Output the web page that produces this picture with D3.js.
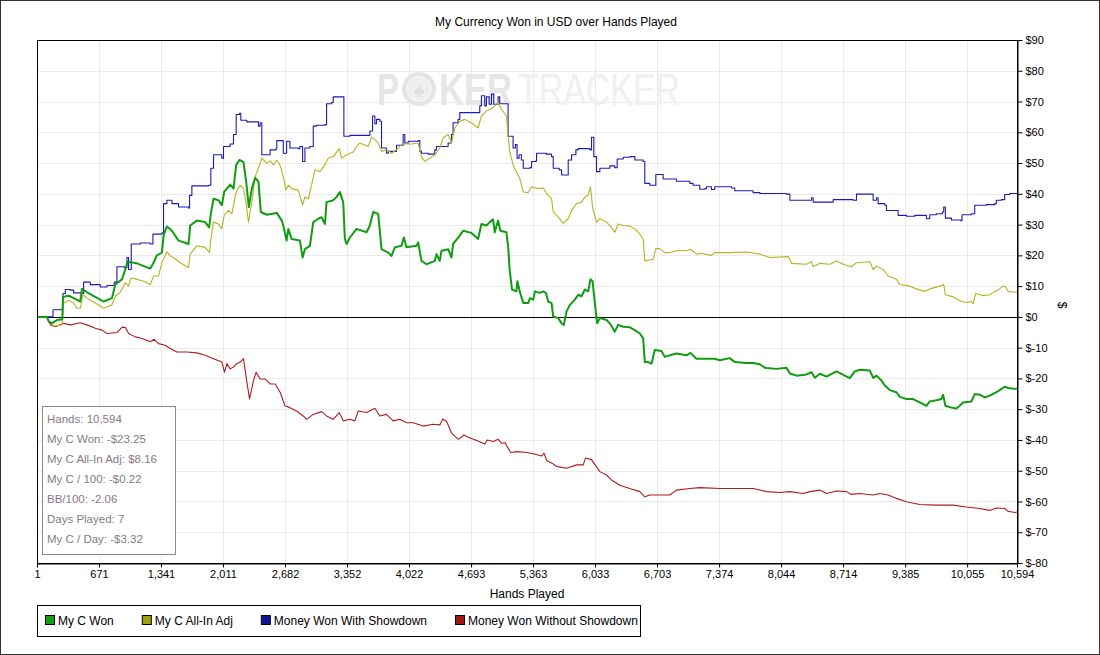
<!doctype html>
<html>
<head>
    <meta charset="utf-8" />
    <title>My Currency Won in USD over Hands Played</title>
    <style>
        body { margin: 0; background: #fff; }
        svg text { font-family: "Liberation Sans", Arial, sans-serif; }
        .grid line { stroke: #ebebeb; stroke-width: 1; }
        .series { fill: none; stroke-linejoin: round; }
    </style>
</head>
<body>
    <div id="chart"></div>

    <script src="https://cdn.jsdelivr.net/npm/d3@7"></script>
    <script>
        // [hand, dollars]
        var myCWon = [
            [1,0],[108,0],[127,-1.5],[163,-2.1],[217,-1],[275,-0.8],[282,6.5],[343,6.9],[397,6.1],[469,5],[487,9.1],[541,8],[631,6.5],[721,5],[811,6.1],[847,10.5],[919,12.2],[955,15.4],[980,17.9],[1081,17.4],[1225,15.7],[1261,17.6],[1297,20],[1351,20.9],[1369,26.4],[1405,29.4],[1459,28],[1531,24.8],[1639,23.7],[1657,29.7],[1729,31.3],[1819,30.8],[1862,29.1],[1880,33.5],[1909,38.4],[1963,37.9],[1999,36.3],[2024,40.6],[2089,43],[2125,41.7],[2154,49.4],[2190,51],[2233,50.3],[2262,43.9],[2291,35.7],[2323,41.7],[2359,45.2],[2395,43.9],[2420,34.1],[2485,33.2],[2593,33.8],[2647,31.3],[2663,29.7],[2699,24.8],[2717,28.6],[2753,25.3],[2843,24.8],[2872,19.3],[2897,22],[2951,23.1],[2987,30.8],[3041,31.9],[3077,32.4],[3113,30.2],[3131,37.3],[3203,37.9],[3239,39],[3275,40.6],[3311,37.3],[3329,25.3],[3347,23.7],[3383,25.8],[3455,28.6],[3563,27.5],[3599,29.7],[3635,34.1],[3689,33.5],[3725,22],[3797,20.9],[3833,19.8],[3869,22.6],[3941,23.1],[3966,25.8],[3995,22.6],[4103,23.1],[4121,24.2],[4157,18.2],[4211,17.1],[4301,18.2],[4319,20.4],[4355,18.2],[4373,21.5],[4445,22],[4481,19.3],[4499,23.7],[4571,26.4],[4607,28],[4697,27.3],[4769,25.3],[4805,30.2],[4859,29.7],[4895,30.8],[4931,31.7],[4949,27.5],[4985,31.3],[5010,28],[5075,27.5],[5093,23.1],[5111,14.9],[5136,8.9],[5183,8.3],[5194,11.6],[5219,8.3],[5257,4.5],[5311,4.5],[5329,6.1],[5365,5.6],[5383,8.3],[5437,7.8],[5473,8.3],[5502,7.8],[5527,5],[5563,4.5],[5581,0.1],[5635,-0.4],[5671,-2.1],[5696,-2.6],[5725,1.8],[5761,3.9],[5815,5.6],[5851,7.2],[5887,6.7],[5923,8.9],[5959,8.3],[5984,12.2],[6006,11.6],[6031,4.5],[6056,-2.1],[6085,-0.4],[6157,-1],[6193,-2.1],[6247,-4.8],[6283,-2.6],[6337,-3.2],[6409,-3.4],[6463,-4.3],[6517,-5.4],[6553,-7],[6571,-14.7],[6607,-14.7],[6643,-15.2],[6679,-10.8],[6751,-11.1],[6787,-13],[6841,-12.5],[6913,-11.9],[7021,-12.5],[7064,-11.7],[7129,-13.6],[7237,-13.6],[7327,-13.6],[7381,-14.1],[7489,-13.4],[7543,-14.7],[7669,-15],[7741,-15],[7813,-15.4],[7867,-16.5],[7887,-16.6],[7995,-16.9],[8103,-16.5],[8139,-18.4],[8211,-19.1],[8319,-18.7],[8373,-18],[8409,-19.8],[8463,-18.5],[8535,-19.4],[8643,-17.7],[8733,-19.1],[8787,-19.9],[8841,-17.7],[8895,-17.2],[9003,-17.4],[9039,-19.8],[9075,-19.1],[9129,-20.7],[9165,-22.3],[9219,-23.8],[9291,-24.5],[9327,-26],[9399,-26.7],[9471,-26.7],[9543,-27.8],[9615,-28.9],[9651,-27.5],[9723,-27.1],[9777,-26.7],[9795,-25.3],[9820,-28.9],[9885,-29.5],[9939,-29.8],[9975,-28.9],[10011,-27.8],[10101,-27.5],[10137,-25.1],[10191,-25.3],[10245,-26.2],[10299,-25.6],[10371,-24.5],[10407,-23.8],[10461,-22.7],[10497,-23.1],[10569,-23.4],[10594,-23.25]
        ];

        var allInAdj = [
            [1,0],[108,0],[145,-2.1],[181,-3],[271,-2.6],[289,4.5],[343,5.4],[397,4.5],[433,2.8],[469,2.8],[498,7.2],[541,6.1],[631,4.5],[721,2.8],[811,3.9],[847,6.7],[901,8],[955,11.1],[991,10],[1016,12.7],[1081,12.2],[1153,11.6],[1225,10.5],[1261,13.3],[1315,13.3],[1351,17.6],[1405,21.1],[1441,19.8],[1477,19.3],[1549,17.6],[1639,16],[1657,20.4],[1729,23.1],[1819,22.6],[1866,20.9],[1880,25.3],[1909,30.8],[1963,30.2],[1999,28.6],[2024,33],[2071,34.6],[2107,33.5],[2154,40.6],[2197,42.8],[2233,41.7],[2262,36.8],[2287,30.8],[2323,37.3],[2359,45.6],[2395,48.3],[2431,51.6],[2485,49.9],[2521,50.7],[2557,49.4],[2593,51],[2627,49.4],[2663,45.6],[2692,41.2],[2717,42.8],[2753,41.7],[2825,41.2],[2872,36.3],[2897,39],[2933,38.4],[2969,42.8],[3005,47.8],[3059,47.2],[3113,49.4],[3149,51.6],[3203,52.1],[3268,54.7],[3293,51.6],[3347,52.7],[3419,53.6],[3455,55.4],[3491,56.5],[3581,55.4],[3617,58.4],[3653,57.6],[3689,56.5],[3725,53.8],[3779,54.3],[3833,53.2],[3887,54.3],[3941,56],[3977,56.2],[4049,56.2],[4121,56.5],[4157,52.1],[4193,50.5],[4247,51.6],[4301,52.7],[4355,54.9],[4391,58.2],[4445,59.3],[4481,56.5],[4517,61.4],[4571,63.6],[4625,64.2],[4697,63.1],[4769,61.4],[4805,65.3],[4859,66.9],[4931,68],[4985,69.7],[5021,67.5],[5075,65.3],[5093,58.7],[5111,53.8],[5147,49.4],[5190,46.7],[5219,45],[5257,40.6],[5311,40.4],[5347,42.3],[5401,41.7],[5473,41.9],[5509,40.1],[5563,38.4],[5581,34.1],[5635,32.4],[5689,30.4],[5743,31.9],[5779,34.6],[5833,36.8],[5887,37.3],[5923,39],[5959,39.5],[5984,42.3],[6006,35.7],[6049,30.8],[6085,31.9],[6157,30.8],[6211,29.1],[6247,27.5],[6283,30.2],[6337,29.7],[6409,29.5],[6463,28.6],[6517,26.9],[6553,25.3],[6571,18.2],[6625,18.5],[6661,18.7],[6690,22.2],[6733,22.2],[6787,20.9],[6841,20.9],[6913,21.5],[7021,21.5],[7064,22],[7129,20.4],[7183,20.7],[7291,20],[7327,20.9],[7489,20.9],[7669,21.1],[7815,20.4],[7923,19.3],[8121,19.6],[8157,17.4],[8319,17.1],[8373,17.9],[8391,16.3],[8463,17.4],[8571,17.1],[8643,18.2],[8715,17.1],[8805,16.3],[8859,17.6],[9003,17.9],[9039,15.4],[9075,16.5],[9147,15.4],[9201,13.3],[9291,12.2],[9327,10.5],[9435,10],[9507,9.1],[9597,8.3],[9651,9.1],[9759,10],[9802,10.5],[9820,7.2],[9903,6.5],[9993,5],[10047,4.7],[10101,5],[10119,4.3],[10148,7.6],[10227,6.9],[10299,7.2],[10353,8.3],[10389,8.7],[10443,10],[10472,9.6],[10497,8.3],[10569,8],[10594,8.16]
        ];

        var withShowdown = [
            [1,0],[108,0],[163,0.1],[174,2.3],[260,2.5],[282,7.6],[307,8.9],[361,8.7],[397,7.8],[487,7.6],[505,11.3],[577,10.5],[685,9.7],[757,10.2],[836,11.3],[865,16.3],[944,16],[973,19.3],[991,15.4],[1020,23.7],[1081,23.7],[1117,24],[1225,23.7],[1254,26.9],[1351,27.3],[1369,36.8],[1405,37.9],[1459,36.8],[1495,36.8],[1531,35.7],[1639,35.4],[1650,39.5],[1675,42.6],[1855,42.8],[1880,48.3],[1909,52.7],[1999,51.6],[2017,55.4],[2089,56.2],[2125,59.3],[2154,65.8],[2190,66.2],[2204,63.9],[2269,63.4],[2395,62],[2413,63.1],[2431,52.7],[2521,54.3],[2586,54.9],[2593,57.3],[2627,57.3],[2663,53.2],[2699,57.1],[2735,54.9],[2825,54.7],[2843,55.4],[2872,50.5],[2897,54.9],[2951,55.4],[2987,62],[3023,62.3],[3113,62.5],[3131,69.3],[3185,69.7],[3203,71.5],[3293,71.5],[3318,58.7],[3383,59],[3581,59],[3599,60.4],[3628,65.3],[3653,62.8],[3671,64.2],[3707,63.6],[3725,54.9],[3779,53.2],[3797,53.8],[3869,53.8],[3887,55.8],[3941,55.8],[3959,59.3],[3977,56.5],[4013,57.1],[4121,57.3],[4139,53.8],[4157,53.2],[4229,52.9],[4301,54.3],[4319,55.4],[4391,55.4],[4445,56.5],[4481,59.3],[4499,63.1],[4553,64.2],[4571,66.4],[4769,66.4],[4787,68.6],[4805,71.9],[4841,68.6],[4859,71.5],[4888,69.1],[4913,72.4],[4938,69.1],[4985,71.5],[5003,69.3],[5075,69.3],[5093,58.7],[5147,54.9],[5172,56],[5190,51.6],[5212,52.7],[5237,51],[5257,48.3],[5329,48.5],[5347,50.5],[5394,50.7],[5401,53.2],[5509,52.9],[5563,52.1],[5581,48.3],[5646,47.8],[5671,46.1],[5725,46.1],[5743,51],[5779,52.7],[5826,54.3],[5851,54.7],[5977,54.3],[5995,58.4],[6020,52.1],[6049,47.2],[6085,48.3],[6193,49.1],[6247,48.5],[6272,51.3],[6337,51.9],[6409,52.1],[6463,51],[6553,50.5],[6571,43.4],[6625,42.8],[6661,42.8],[6690,46.3],[6733,46.3],[6769,44.8],[6913,44.1],[7057,43.4],[7093,42.8],[7165,41.5],[7219,41.7],[7237,42.3],[7291,41.4],[7327,42.3],[7507,41.9],[7543,41],[7741,40.4],[7815,40.1],[8103,39.9],[8139,37.9],[8355,37.9],[8373,38.7],[8391,37.3],[8607,38.1],[8823,37.9],[8859,39.9],[9003,39.9],[9039,37.9],[9075,38.7],[9093,36.8],[9165,36.3],[9183,34.6],[9309,33],[9399,32.7],[9489,33],[9615,31.9],[9651,33.2],[9723,33.5],[9788,34.1],[9802,35.7],[9820,32.1],[9885,31.5],[9986,31.3],[10000,33.2],[10101,33.5],[10137,36.3],[10263,36.5],[10353,36.8],[10371,37.9],[10425,38.1],[10461,39.8],[10515,40.1],[10594,40.1]
        ];

        var withoutShowdown = [
            [1,0],[108,0],[145,-2.6],[199,-3.2],[289,-2.1],[361,-2.6],[469,-1.9],[541,-2.6],[631,-3.7],[703,-4.3],[757,-5.4],[865,-5.1],[919,-3.4],[955,-3.4],[991,-5.4],[1063,-6.5],[1135,-7],[1225,-8.1],[1268,-7.3],[1315,-8.7],[1387,-9.2],[1441,-10.3],[1513,-11.4],[1621,-11.4],[1729,-11.7],[1819,-12.5],[1909,-13.6],[1999,-14.7],[2028,-18],[2053,-15.2],[2089,-16.9],[2125,-16.3],[2161,-15.2],[2197,-14.7],[2233,-13.6],[2262,-19.6],[2298,-26.7],[2341,-20.7],[2370,-18],[2413,-20.2],[2467,-20.2],[2521,-21.8],[2575,-21.8],[2629,-24.5],[2681,-28.9],[2735,-29.5],[2807,-30.6],[2879,-32.2],[2915,-33.3],[2987,-31.7],[3077,-30.8],[3131,-32.2],[3203,-33.3],[3268,-31.1],[3311,-33.8],[3383,-33.3],[3437,-33.8],[3473,-30.6],[3563,-31.1],[3653,-29.7],[3707,-32.2],[3779,-31.7],[3851,-33.8],[3923,-33.3],[3995,-34.4],[4067,-34.4],[4175,-35.5],[4283,-34.9],[4357,-35.1],[4386,-33.2],[4429,-34],[4483,-37.8],[4555,-39.8],[4616,-38.4],[4663,-39.1],[4754,-40.2],[4843,-41.3],[4868,-40],[4933,-40.5],[4987,-39.8],[5024,-41.1],[5060,-40.9],[5121,-44.1],[5186,-43.8],[5294,-44.1],[5366,-44.5],[5456,-45.2],[5481,-44.3],[5510,-46.7],[5582,-47.8],[5617,-48.6],[5725,-49.2],[5833,-48.1],[5905,-48.1],[5930,-45.9],[5995,-46.4],[6085,-50.3],[6157,-51.4],[6211,-53],[6301,-54.7],[6409,-55.8],[6517,-56.8],[6571,-58.5],[6625,-57.9],[6733,-57.9],[6841,-57.9],[6913,-56.3],[7057,-55.8],[7165,-55.5],[7381,-55.8],[7561,-55.8],[7741,-55.8],[7815,-56.3],[7887,-56.8],[8031,-57.1],[8139,-56.8],[8283,-57.4],[8355,-56.8],[8463,-56.3],[8535,-57.4],[8643,-56.6],[8751,-56.8],[8805,-57.7],[8895,-57.4],[9039,-57.9],[9111,-57.4],[9201,-57.9],[9291,-59],[9399,-60.1],[9543,-61],[9723,-61.2],[9903,-61.2],[10047,-61.8],[10191,-62.3],[10299,-62.9],[10371,-62.1],[10461,-62.3],[10497,-63.2],[10569,-63.6],[10594,-63.4]
        ];

        var seriesNames = ["My C Won", "My C All-In Adj", "Money Won With Showdown", "Money Won Without Showdown"];
        var seriesColors = ["#109c10", "#b4b423", "#1c1cb0", "#b01c1c"];
        var legendColors = ["#14a014", "#a0a014", "#1414a0", "#a01414"];

        var xTicks = [1, 671, 1341, 2011, 2682, 3352, 4022, 4693, 5363, 6033, 6703, 7374, 8044, 8714, 9385, 10055, 10594];
        var yTicks = [-80, -70, -60, -50, -40, -30, -20, -10, 0, 10, 20, 30, 40, 50, 60, 70, 80, 90];

        var statLines = [
            "Hands: 10,594",
            "My C Won: -$23.25",
            "My C All-In Adj: $8.16",
            "My C / 100: -$0.22",
            "BB/100: -2.06",
            "Days Played: 7",
            "My C / Day: -$3.32"
        ];

        var w = 1100, h = 655;
        var pL = 37, pR = 1017, pT = 40, pB = 563;

        var svg = d3.select("#chart").append("svg").attr("width", w).attr("height", h);

        var x = d3.scaleLinear().domain([1, 10594]).range([pL, pR]);
        var y = d3.scaleLinear().domain([-80, 90]).range([pB, pT]);

        function money(v) { return v < 0 ? "$-" + Math.abs(v) : "$" + v; }

        // outer frame
        svg.append("rect").attr("x", 0.5).attr("y", 0.5).attr("width", w - 1).attr("height", h - 1)
            .attr("fill", "#fff").attr("stroke", "#333");

        // grid
        var grid = svg.append("g").attr("class", "grid");
        grid.selectAll(".gx").data(xTicks.slice(1, -1)).enter().append("line")
            .attr("x1", function(d) { return Math.round(x(d)) + 0.5; })
            .attr("x2", function(d) { return Math.round(x(d)) + 0.5; })
            .attr("y1", pT).attr("y2", pB);
        grid.selectAll(".gy").data(yTicks.slice(1, -1)).enter().append("line")
            .attr("x1", pL).attr("x2", pR)
            .attr("y1", function(d) { return Math.round(y(d)) + 0.5; })
            .attr("y2", function(d) { return Math.round(y(d)) + 0.5; });

        // watermark
        var wm = svg.append("g").attr("pointer-events", "none");
        wm.append("text").attr("x", 377).attr("y", 105).text("P")
            .attr("font-size", 44).attr("font-weight", "bold").attr("fill", "#e6e6e6")
            .attr("textLength", 22).attr("lengthAdjust", "spacingAndGlyphs");
        wm.append("circle").attr("cx", 419).attr("cy", 89).attr("r", 17).attr("fill", "#e4e4e4");
        wm.append("circle").attr("cx", 419).attr("cy", 89).attr("r", 12).attr("fill", "#eeeeee")
            .attr("stroke", "#f6f6f6").attr("stroke-width", 1.5);
        wm.append("text").attr("x", 419).attr("y", 97).attr("text-anchor", "middle").text("\u2660")
            .attr("font-family", "DejaVu Sans").attr("font-size", 20).attr("fill", "#dedede");
        wm.append("text").attr("x", 439).attr("y", 105).text("KER")
            .attr("font-size", 44).attr("font-weight", "bold").attr("fill", "#e6e6e6")
            .attr("textLength", 73).attr("lengthAdjust", "spacingAndGlyphs");
        wm.append("text").attr("x", 518).attr("y", 105).text("TRACKER")
            .attr("font-size", 44).attr("fill", "#f0f0f0")
            .attr("textLength", 162).attr("lengthAdjust", "spacingAndGlyphs");

        // zero line
        svg.append("line").attr("x1", pL).attr("x2", pR)
            .attr("y1", Math.round(y(0)) + 0.5).attr("y2", Math.round(y(0)) + 0.5)
            .attr("stroke", "#000");

        // series
        svg.append("clipPath").attr("id", "plotclip").append("rect")
            .attr("x", pL).attr("y", pT).attr("width", pR - pL).attr("height", pB - pT);

        var line = d3.line().x(function(d) { return x(d[0]); }).y(function(d) { return y(d[1]); });
        var stepLine = d3.line().curve(d3.curveStepAfter)
            .x(function(d) { return x(d[0]); }).y(function(d) { return y(d[1]); });
        var seriesData = [myCWon, allInAdj, withShowdown, withoutShowdown];
        var drawOrder = [3, 2, 1, 0];
        var plot = svg.append("g").attr("clip-path", "url(#plotclip)");
        drawOrder.forEach(function(i) {
            plot.append("path").attr("class", "series").datum(seriesData[i])
                .attr("d", i === 2 ? stepLine : line)
                .attr("stroke", seriesColors[i])
                .attr("stroke-width", i === 0 ? 2 : 1.1);
        });

        // plot frame
        svg.append("rect").attr("x", pL + 0.5).attr("y", pT + 0.5)
            .attr("width", pR - pL).attr("height", pB - pT)
            .attr("fill", "none").attr("stroke", "#000");

        // axes
        var xAxis = svg.append("g").attr("transform", "translate(0," + (pB + 0.5) + ")")
            .call(d3.axisBottom(x).tickValues(xTicks).tickFormat(d3.format(",")).tickSize(4).tickSizeOuter(0).tickPadding(3));
        var yAxis = svg.append("g").attr("transform", "translate(" + (pR + 0.5) + ",0)")
            .call(d3.axisRight(y).tickValues(yTicks).tickFormat(money).tickSize(5).tickSizeOuter(0).tickPadding(3));
        [xAxis, yAxis].forEach(function(a) {
            a.attr("font-family", "Liberation Sans, Arial, sans-serif").attr("font-size", 11);
            a.selectAll("text").attr("fill", "#000");
            a.selectAll("line").attr("stroke", "#000");
            a.select(".domain").attr("stroke", "#000");
        });

        // titles
        svg.append("text").attr("x", 556).attr("y", 26).attr("text-anchor", "middle")
            .attr("font-size", 12).text("My Currency Won in USD over Hands Played");
        svg.append("text").attr("x", (pL + pR) / 2).attr("y", 598).attr("text-anchor", "middle")
            .attr("font-size", 12).text("Hands Played");
        svg.append("text").attr("transform", "translate(1058,305) rotate(90)").attr("text-anchor", "middle")
            .attr("font-size", 12).text("$");

        // stats box
        var stats = svg.append("g");
        stats.append("rect").attr("x", 42.5).attr("y", 406.5).attr("width", 133).attr("height", 148)
            .attr("fill", "#fff").attr("stroke", "#8a8a8a");
        stats.selectAll("text").data(statLines).enter().append("text")
            .attr("x", 47).attr("y", function(d, i) { return 423 + i * 20; })
            .attr("font-family", "Noto Sans, Open Sans, sans-serif").attr("font-size", 11.5)
            .attr("fill", "#857b84").text(function(d) { return d; });

        // legend
        var legend = svg.append("g");
        legend.append("rect").attr("x", 37.5).attr("y", 605.5).attr("width", 603).attr("height", 31)
            .attr("fill", "#fff").attr("stroke", "#000");
        var lx = 45;
        seriesNames.forEach(function(name, i) {
            legend.append("rect").attr("x", lx + 0.5).attr("y", 615.5).attr("width", 9).attr("height", 9)
                .attr("fill", legendColors[i]).attr("stroke", "#000");
            var t = legend.append("text").attr("x", lx + 13).attr("y", 625)
                .attr("font-size", 12).text(name);
            lx += 13 + t.node().getComputedTextLength() + 28;
        });
    </script>
</body>
</html>
